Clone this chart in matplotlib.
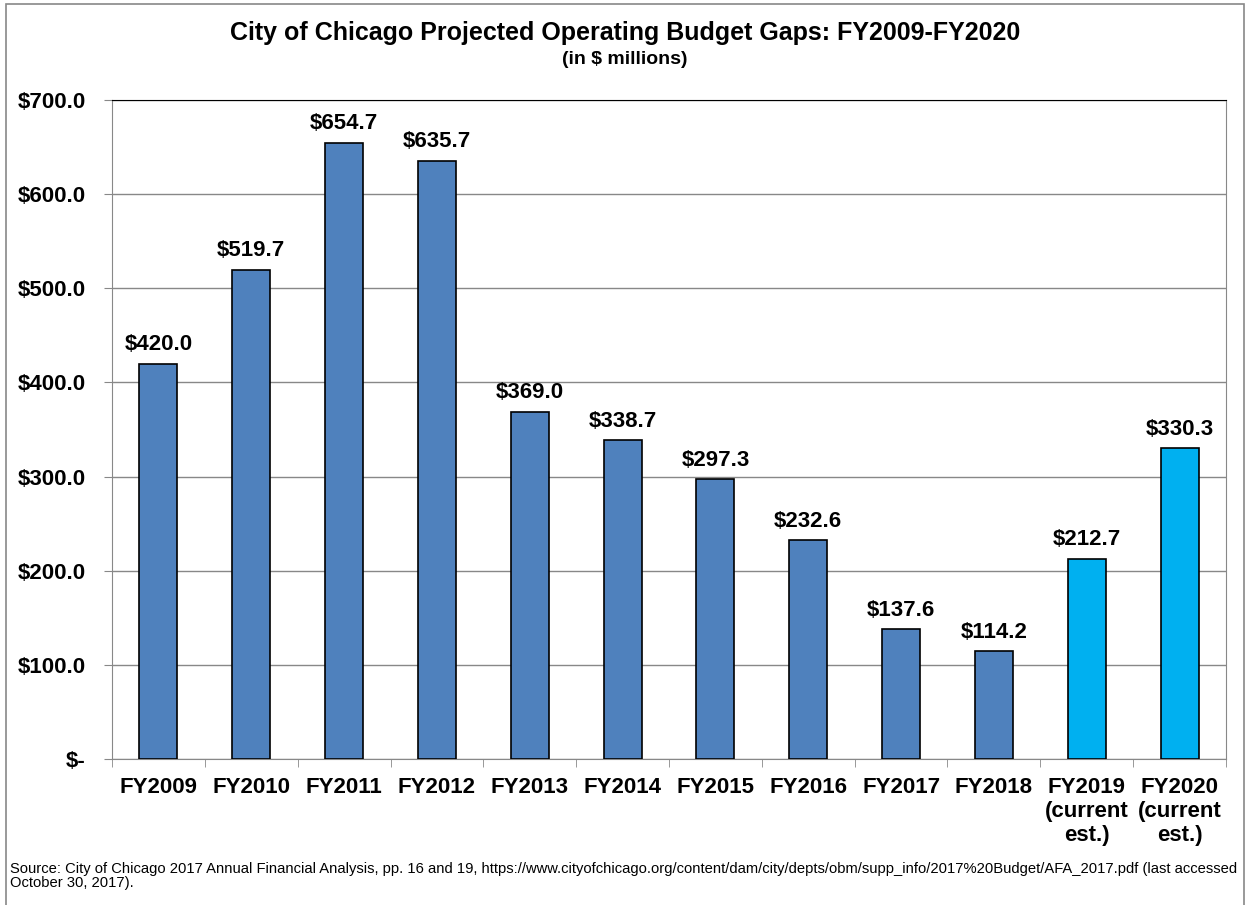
import matplotlib.pyplot as plt
from matplotlib.patches import Rectangle
import numpy as np

plt.rcParams['font.family'] = ['Liberation Sans', 'DejaVu Sans']

# data
years = ['FY2009', 'FY2010', 'FY2011', 'FY2012', 'FY2013', 'FY2014', 'FY2015',
         'FY2016', 'FY2017', 'FY2018', 'FY2019\n(current\nest.)', 'FY2020\n(current\nest.)']
gaps = [420.0, 519.7, 654.7, 635.7, 369.0, 338.7, 297.3, 232.6, 137.6, 114.2, 212.7, 330.3]
is_estimate = [False] * 10 + [True, True]

fig = plt.figure(figsize=(12.5, 9.05), dpi=100)
ax = fig.add_axes([112 / 1250, 1 - 759 / 905, (1226 - 112) / 1250, (759 - 100) / 905])

colors = ['#00B0F0' if e else '#4F81BD' for e in is_estimate]
x = np.arange(len(years))
ax.bar(x, gaps, width=0.41, color=colors, edgecolor='black', linewidth=1.2, zorder=3)

for xi, v in zip(x, gaps):
    ax.text(xi, v + 9, f'${v:.1f}', ha='center', va='bottom', fontsize=16,
            fontweight='bold', zorder=4)

ax.set_xlim(-0.5, len(years) - 0.5)
ax.set_ylim(0, 700)
yt = np.arange(0, 701, 100)
ax.set_yticks(yt)
ax.set_yticklabels(['$-'] + [f'${v:.1f}' for v in yt[1:]], fontsize=16, fontweight='bold')
ax.yaxis.grid(True, color='#888888', linewidth=1, zorder=0)

ax.set_xticks(x)
ax.set_xticklabels(years, fontsize=16, fontweight='bold', va='top', linespacing=1.2)
ax.tick_params(axis='x', length=0, pad=13)
ax.set_xticks(np.arange(-0.5, len(years)), minor=True)
ax.tick_params(axis='x', which='minor', length=6, color='#888888')
ax.tick_params(axis='y', length=6, color='#888888', pad=13)

for s in ['left', 'right', 'bottom']:
    ax.spines[s].set_color('#888888')
ax.spines['top'].set_color('black')

fig.text(0.5, 1 - 33 / 905, 'City of Chicago Projected Operating Budget Gaps: FY2009-FY2020',
         ha='center', va='center', fontsize=18, fontweight='bold')
fig.text(0.5, 1 - 59 / 905, '(in $ millions)', ha='center', va='center',
         fontsize=14, fontweight='bold')

fig.text(10 / 1250, 1 - 876 / 905,
         'Source: City of Chicago 2017 Annual Financial Analysis, pp. 16 and 19, '
         'https://www.cityofchicago.org/content/dam/city/depts/obm/supp_info/2017%20Budget/AFA_2017.pdf (last accessed\n'
         'October 30, 2017).', ha='left', va='center', fontsize=10.6, linespacing=1.0)

fig.patches.append(Rectangle((6 / 1250, -0.01), 1238 / 1250, 1 - 4 / 905 + 0.01,
                             transform=fig.transFigure, fill=False,
                             edgecolor='#888888', linewidth=1.2))

fig.savefig('out.png', dpi=100)
